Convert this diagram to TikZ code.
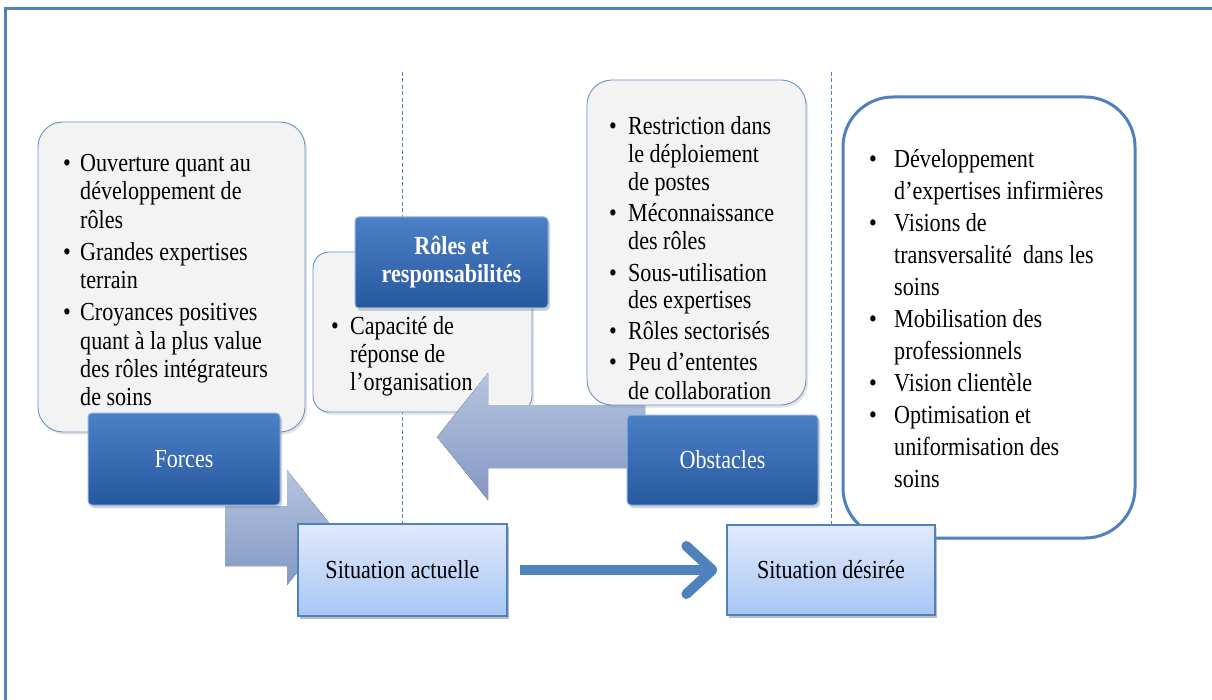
\documentclass[tikz,border=0pt]{standalone}
\usepackage{fontspec}
\setmainfont{Liberation Serif}[FakeStretch=0.85]
\usetikzlibrary{shadows,arrows.meta}

\definecolor{frameblue}{RGB}{79,129,189}
\definecolor{boxgray}{RGB}{243,243,243}
\definecolor{labeltop}{RGB}{76,128,198}
\definecolor{labelmid}{RGB}{52,106,178}
\definecolor{labelbot}{RGB}{38,88,158}
\definecolor{labeledge}{RGB}{140,180,230}
\definecolor{sittop}{RGB}{224,234,251}
\definecolor{sitbot}{RGB}{168,198,245}
\definecolor{arrtop}{RGB}{182,196,224}
\definecolor{arrbot}{RGB}{132,152,194}

% bullet and hanging indent of a given width
\newcommand\pbul[1]{\makebox[#1][l]{\textbullet}}
\newcommand\pind[1]{\hspace*{#1}}
\newcommand\listfont{\fontsize{26}{28}\selectfont}

\tikzset{
  listbox/.style={draw=frameblue!85, line width=0.9pt, fill=boxgray,
    rounded corners=25pt,
    drop shadow={opacity=0.22, shadow xshift=2pt, shadow yshift=-2.5pt}},
  labelbox/.style={draw=labeledge, line width=1pt, rounded corners=4pt,
    top color=labeltop, middle color=labelmid, bottom color=labelbot, text=white,
    font=\fontsize{26}{28}\selectfont, align=center,
    drop shadow={opacity=0.35, shadow xshift=2pt, shadow yshift=-3pt}},
  sitbox/.style={draw=frameblue, line width=1.3pt, top color=sittop,
    bottom color=sitbot, font=\fontsize{26}{28}\selectfont,
    drop shadow={opacity=0.3, shadow xshift=2pt, shadow yshift=-3pt}},
  % multi-line text anchored at the baseline of its last line
  listtext/.style={anchor=base west, align=left, inner sep=0pt, font=\listfont},
  bigarrow/.style={top color=arrtop, bottom color=arrbot, draw=none},
  divider/.style={draw=frameblue, line width=0.9pt, dash pattern=on 4pt off 2.5pt},
  flowline/.style={draw=frameblue, line width=10pt,
    -{Straight Barb[length=26pt, width=48pt, line cap=round, line join=round]}}
}

\begin{document}
\begin{tikzpicture}[x=1pt,y=-1pt]
\useasboundingbox (0,0) rectangle (1212,700);
\fill[white] (0,0) rectangle (1212,700);

% outer frame (top and left edges)
\draw[frameblue, line width=3pt] (5,700) -- (5,9) -- (1212,9);

% the two situation boxes (drawn again on top later)
\path (402.5,570) node[sitbox, minimum width=209pt, minimum height=92pt] (sa) {Situation actuelle};
\path (831,570) node[sitbox, minimum width=208pt, minimum height=90pt] (sd) {Situation désirée};

% dividers
\coordinate (d1) at (402,72);
\coordinate (d2) at (831,72);
\draw[divider] (d1) -- (d1 |- sa.north);
\draw[divider] (d2) -- (d2 |- sd.north);

% desired situation description
\node[draw=frameblue, line width=3pt, fill=white, rounded corners=50pt,
      minimum width=292pt, minimum height=441pt] (goal) at (989,317.5) {};
\node[listtext, font=\fontsize{26}{32}\selectfont] (goaltxt) at (869,487) {%
\pbul{25pt}Développement\\
\pind{25pt}d’expertises infirmières\\
\pbul{25pt}Visions de\\
\pind{25pt}transversalité\ \ dans les\\
\pind{25pt}soins\\
\pbul{25pt}Mobilisation des\\
\pind{25pt}professionnels\\
\pbul{25pt}Vision clientèle\\
\pbul{25pt}Optimisation et\\
\pind{25pt}uniformisation des\\
\pind{25pt}soins};

% block arrow from the strengths towards the current situation
\fill[bigarrow] (225,506) -- (287,506) -- (287,470) -- (333,528)
  -- (287,585) -- (287,566) -- (225,566) -- cycle;

% strengths
\node[listbox, minimum width=267pt, minimum height=310pt] (fbox) at (171.5,277) {};
\node[listtext] (ftxt) at (63,405) {%
\pbul{17pt}Ouverture quant au\\
\pind{17pt}développement de\\
\pind{17pt}rôles\\[4.5pt]
\pbul{17pt}Grandes expertises\\
\pind{17pt}terrain\\[4.5pt]
\pbul{17pt}Croyances positives\\
\pind{17pt}quant à la plus value\\
\pind{17pt}des rôles intégrateurs\\
\pind{17pt}de soins};
\node[labelbox, minimum width=192pt, minimum height=92pt] (forces) at (184,459) {Forces};

% roles and responsibilities
\node[listbox, rounded corners=16pt, minimum width=219pt, minimum height=160pt] (rbox) at (422.5,332) {};

% block arrow from the obstacles back towards the current situation
\fill[bigarrow] (645,405) -- (488,405) -- (488,373) -- (437,437)
  -- (488,500) -- (488,468) -- (645,468) -- cycle;

\node[listtext] (rtxt) at (331,390) {%
\pbul{19pt}Capacité de\\
\pind{19pt}réponse de\\
\pind{19pt}l’organisation};
\node[labelbox, font=\bfseries\fontsize{26}{28}\selectfont,
      minimum width=193pt, minimum height=91pt] (roles) at (451.5,262.5)
  {Rôles et\\responsabilités};

% obstacles
\node[listbox, minimum width=219pt, minimum height=325pt] (obox) at (696.5,242.5) {};
\node[listtext] (otxt) at (609,399) {%
\pbul{19pt}Restriction dans\\
\pind{19pt}le déploiement\\
\pind{19pt}de postes\\[3pt]
\pbul{19pt}Méconnaissance\\
\pind{19pt}des rôles\\[3pt]
\pbul{19pt}Sous-utilisation\\
\pind{19pt}des expertises\\[3pt]
\pbul{19pt}Rôles sectorisés\\[3pt]
\pbul{19pt}Peu d’ententes\\
\pind{19pt}de collaboration};
\node[labelbox, minimum width=191pt, minimum height=90pt] (obst) at (722.5,460) {Obstacles};

% situation boxes on top
\path (402.5,570) node[sitbox, minimum width=209pt, minimum height=92pt] {Situation actuelle};
\path (831,570) node[sitbox, minimum width=208pt, minimum height=90pt] {Situation désirée};

% from the current to the desired situation
\draw[flowline] ([xshift=12pt]sa.east) -- ([xshift=-9pt]sd.west);
\end{tikzpicture}
\end{document}
